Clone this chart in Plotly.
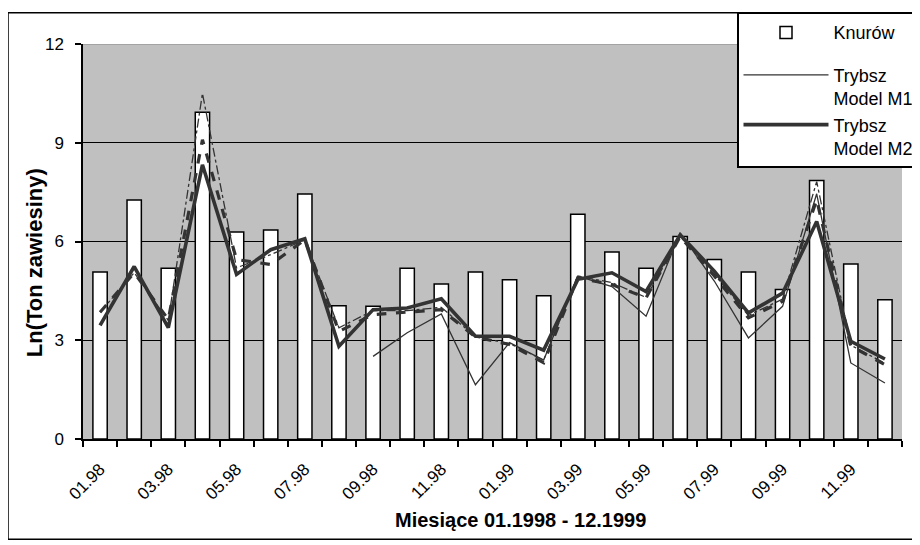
import plotly.graph_objects as go

months = ["01.98", "02.98", "03.98", "04.98", "05.98", "06.98", "07.98", "08.98",
          "09.98", "10.98", "11.98", "12.98", "01.99", "02.99", "03.99", "04.99",
          "05.99", "06.99", "07.99", "08.99", "09.99", "10.99", "11.99", "12.99"]

knurow = [5.07, 7.26, 5.19, 9.93, 6.29, 6.35, 7.44, 4.05,
          4.03, 5.19, 4.71, 5.07, 4.84, 4.35, 6.83, 5.68,
          5.19, 6.15, 5.45, 5.07, 4.54, 7.85, 5.32, 4.23]

model_m1 = [None, None, None, None, None, None, None, None,
            2.51, 3.23, 3.80, 1.65, 2.93, 2.40, 4.95, 4.63,
            3.73, 6.26, 4.80, 3.07, 4.03, 7.45, 2.31, 1.70]

model_m2 = [3.45, 5.24, 3.38, 8.33, 5.00, 5.75, 6.08, 2.82,
            3.93, 3.98, 4.26, 3.12, 3.12, 2.70, 4.85, 5.05,
            4.48, 6.20, 5.10, 3.83, 4.43, 6.61, 2.97, 2.43]

model_dash = [3.85, 5.05, 3.63, 9.09, 5.45, 5.30, 6.05, 3.27,
              3.78, 3.85, 3.93, 3.10, 2.87, 2.32, 4.90, 4.69,
              4.29, 6.15, 4.95, 3.68, 4.18, 7.27, 2.82, 2.26]

model_dashdot = [3.85, 5.05, 3.60, 10.50, 5.20, 5.60, 6.05, 3.38,
                 3.90, 3.90, 4.00, 3.10, 2.90, 2.40, 4.95, 4.75,
                 4.30, 6.15, 5.00, 3.75, 4.25, 7.82, 2.85, 2.30]

tick_text = [m if i % 2 == 0 else "" for i, m in enumerate(months)]

x_title = "Miesiące 01.1998 - 12.1999"
y_title = "Ln(Ton zawiesiny)"

FONT = "Liberation Sans, Arial, sans-serif"
LINE = "#333333"

# plot area in figure pixels (page body adds an 8px offset)
W, H = 920, 545
L, R, T, B = 75, 26, 36, 113.5
PW = W - L - R
PH = H - T - B


def px_x(sx):
    """screen x -> paper x"""
    return (sx - 8 - L) / PW


def px_y(sy):
    """screen y -> paper y"""
    return (T + PH - (sy - 8)) / PH


fig = go.Figure()

fig.add_trace(go.Bar(
    x=months, y=knurow, name="Knurów",
    marker=dict(color="white", line=dict(color="black", width=1.5)),
    legendgroup="a",
))

fig.add_trace(go.Scatter(
    x=months, y=model_dashdot, mode="lines", showlegend=False,
    line=dict(color=LINE, width=1.3, dash="dashdot"),
))
fig.add_trace(go.Scatter(
    x=months, y=model_dash, mode="lines", showlegend=False,
    line=dict(color=LINE, width=3.2, dash="dash"),
))
fig.add_trace(go.Scatter(
    x=months, y=model_m1, mode="lines", name="Trybsz<br>Model M1",
    line=dict(color=LINE, width=1.3), legendgroup="b",
))
fig.add_trace(go.Scatter(
    x=months, y=model_m2, mode="lines", name="Trybsz<br>Model M2",
    line=dict(color=LINE, width=3.6), legendgroup="b",
))

fig.update_layout(
    width=W, height=H,
    margin=dict(l=L, r=R, t=T, b=B, autoexpand=False),
    paper_bgcolor="white",
    plot_bgcolor="#C0C0C0",
    bargap=0.58,
    font=dict(family=FONT, size=14, color="black"),
    legend=dict(
        xref="container", yref="container",
        x=(737 - 8) / W, y=1 - (12.7 - 8) / H,
        xanchor="left", yanchor="top",
        bgcolor="white", bordercolor="black", borderwidth=1.5,
        font=dict(family=FONT, size=18, color="black"),
        valign="top", tracegroupgap=16, traceorder="grouped",
        itemwidth=85,
    ),
    xaxis=dict(
        type="category",
        tickvals=months, ticktext=tick_text,
        tickson="boundaries",
        ticks="outside", ticklen=6, tickcolor="black", tickwidth=1.5,
        tickangle=-45,
        ticklabelstandoff=12,
        tickfont=dict(family=FONT, size=17),
        showline=True, linecolor="black", linewidth=1.5,
        showgrid=False,
        range=[-0.5, 23.5],
    ),
    yaxis=dict(
        range=[0, 12],
        tickvals=[0, 3, 6, 9, 12],
        ticks="outside", ticklen=6, tickcolor="black", tickwidth=1.5,
        ticklabelstandoff=8,
        tickfont=dict(family=FONT, size=17),
        showline=True, linecolor="black", linewidth=1.5,
        showgrid=True, gridcolor="black", gridwidth=1.3,
        zeroline=False,
    ),
    annotations=[
        dict(text=x_title, xref="paper", yref="paper",
             x=px_x(520), y=px_y(521), xanchor="center", yanchor="middle",
             showarrow=False,
             font=dict(family=FONT, size=20, weight="bold")),
        dict(text=y_title, xref="paper", yref="paper", textangle=-90,
             x=px_x(34.5), y=px_y(263), xanchor="center", yanchor="middle",
             showarrow=False,
             font=dict(family=FONT, size=22, weight="bold")),
    ],
    shapes=[
        dict(type="line", xref="paper", yref="y", x0=0, x1=1, y0=12, y1=12,
             line=dict(color="#9a9a9a", width=1.5), layer="above"),
        dict(type="rect", xref="paper", yref="paper",
             x0=px_x(8), x1=px_x(960),
             y0=px_y(540), y1=px_y(12.7),
             line=dict(color="black", width=1.5), layer="below"),
    ],
)

fig.write_html("out.html")
